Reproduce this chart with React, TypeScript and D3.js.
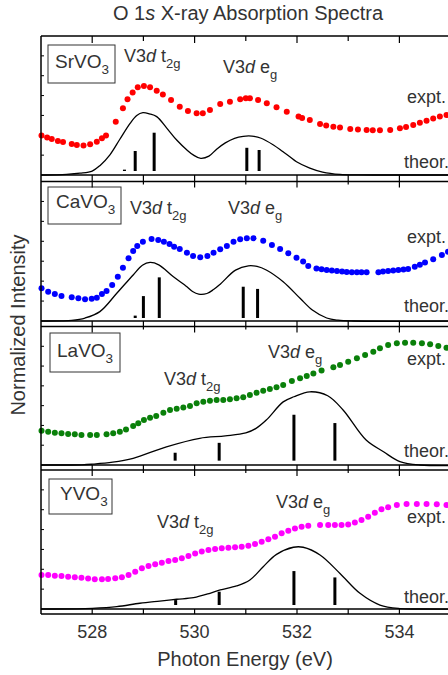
import React from "react";
import * as d3 from "d3";

// ---------------- DATA ----------------
const samples = ["SrVO", "CaVO", "LaVO", "YVO"];
const xTicksMajor = [528, 530, 532, 534];
const xTicksMinor = [529, 531, 533, 535];

// SrVO3
const srExptE = [527.01,527.12,527.21,527.33,527.43,527.60,527.70,527.83,527.96,528.09,528.19,528.27,528.46,528.60,528.69,528.79,528.89,529.01,529.13,529.26,529.38,529.54,529.71,529.87,530.04,530.16,530.30,530.50,530.69,530.89,531.00,531.08,531.24,531.41,531.60,531.80,532.03,532.10,532.25,532.45,532.57,532.71,532.84,533.04,533.19,533.36,533.48,533.62,533.82,534.01,534.13,534.27,534.40,534.53,534.66,534.79,534.92];
const srExptI = [1.99,1.89,1.81,1.71,1.66,1.56,1.51,1.48,1.55,1.68,1.85,1.99,2.68,3.36,3.81,4.16,4.42,4.48,4.42,4.24,4.06,3.78,3.44,3.22,3.11,3.11,3.27,3.58,3.69,3.81,3.86,3.86,3.78,3.61,3.41,3.19,2.94,2.87,2.77,2.57,2.49,2.43,2.39,2.32,2.29,2.27,2.25,2.25,2.27,2.35,2.42,2.52,2.63,2.73,2.84,2.94,3.02];
const srTheoE = [527.0,527.3,527.5,527.76,528.0,528.15,528.35,528.54,528.74,528.87,528.99,529.12,529.26,529.46,529.65,529.85,529.98,530.12,530.28,530.43,530.6,530.78,530.95,531.12,531.3,531.54,531.72,531.86,531.99,532.25,532.5,532.84,533.2,533.6,535.6];
const srTheoI = [0,0.01,0.03,0.09,0.2,0.47,1.03,1.8,2.6,3.0,3.14,3.08,2.94,2.35,1.76,1.26,1.0,0.84,0.95,1.3,1.62,1.85,1.95,1.96,1.85,1.51,1.18,0.92,0.67,0.35,0.15,0.03,0.005,0,0];
const srStickE = [528.63,528.84,529.21,531.02,531.26];
const srStickI = [0.27,1.21,2.13,1.37,1.26];

// CaVO3
const caExptE = [527.01,527.14,527.27,527.40,527.60,527.73,527.86,527.99,528.09,528.19,528.28,528.39,528.50,528.60,528.71,528.80,528.88,528.99,529.16,529.29,529.40,529.51,529.60,529.71,529.85,529.97,530.11,530.25,530.37,530.50,530.63,530.76,530.89,531.02,531.15,531.34,531.51,531.67,531.83,531.99,532.12,532.22,532.38,532.48,532.58,532.68,532.78,532.88,532.97,533.07,533.17,533.26,533.36,533.59,533.68,533.78,533.88,533.98,534.08,534.17,534.30,534.40,534.50,534.66,534.83,534.95];
const caExptI = [1.64,1.47,1.35,1.25,1.19,1.14,1.09,1.12,1.17,1.35,1.51,1.81,2.22,2.67,3.15,3.51,3.76,3.98,4.11,4.06,3.98,3.86,3.73,3.61,3.43,3.26,3.20,3.26,3.43,3.60,3.76,3.98,4.10,4.15,4.15,4.03,3.81,3.61,3.40,3.18,2.98,2.76,2.64,2.60,2.56,2.53,2.51,2.48,2.46,2.45,2.44,2.44,2.44,2.44,2.48,2.51,2.53,2.56,2.58,2.61,2.72,2.82,2.93,3.10,3.31,3.48];
const caTheoE = [527.0,527.4,527.6,527.86,528.15,528.48,528.8,528.98,529.13,529.3,529.58,529.85,529.96,530.08,530.24,530.37,530.5,530.8,531.05,531.22,531.4,531.73,532.06,532.3,532.58,532.8,533.1,535.6];
const caTheoI = [0,0.005,0.03,0.15,0.47,1.39,2.31,2.8,2.94,2.82,2.23,1.72,1.48,1.35,1.38,1.58,1.85,2.55,2.77,2.74,2.56,1.97,1.14,0.55,0.15,0.04,0,0];
const caStickE = [528.84,529.0,529.31,530.95,531.23];
const caStickI = [0.27,1.25,2.19,1.72,1.61];

// LaVO3
const laExptE = [527.01,527.14,527.27,527.40,527.53,527.66,527.79,527.96,528.09,528.28,528.41,528.54,528.66,528.80,528.90,529.01,529.13,529.25,529.39,529.52,529.65,529.78,529.91,530.04,530.17,530.30,530.43,530.56,530.69,530.82,530.95,531.08,531.21,531.34,531.47,531.60,531.73,531.90,532.06,532.19,532.32,532.48,532.71,532.84,533.00,533.17,533.33,533.49,533.62,533.78,533.95,534.11,534.27,534.44,534.60,534.76,534.92];
const laExptI = [1.73,1.68,1.63,1.60,1.57,1.55,1.52,1.52,1.52,1.55,1.60,1.68,1.80,1.97,2.11,2.27,2.39,2.48,2.64,2.78,2.84,2.90,2.98,3.12,3.20,3.25,3.28,3.28,3.32,3.37,3.42,3.54,3.65,3.75,3.84,3.93,4.04,4.24,4.38,4.50,4.63,4.77,4.94,5.05,5.22,5.39,5.56,5.73,5.90,6.06,6.15,6.18,6.18,6.15,6.10,6.01,5.93];
const laTheoE = [527.0,527.8,528.0,528.4,528.8,529.45,530.1,530.6,531.0,531.2,531.4,531.73,531.94,532.25,532.6,532.9,533.35,533.69,534.01,534.4,535.6];
const laTheoI = [0,0.01,0.04,0.14,0.34,0.92,1.35,1.47,1.62,1.85,2.27,3.19,3.45,3.70,3.50,2.78,1.26,0.67,0.17,0,0];
const laStickE = [529.62,530.48,531.94,532.74];
const laStickI = [0.62,1.12,2.54,2.12];

// YVO3
const yExptE = [527.01,527.14,527.27,527.40,527.53,527.66,527.79,527.92,528.05,528.19,528.31,528.45,528.58,528.71,528.84,528.97,529.10,529.23,529.36,529.49,529.62,529.75,529.88,530.01,530.14,530.27,530.40,530.53,530.66,530.79,530.92,531.05,531.18,531.31,531.44,531.57,531.70,531.83,531.96,532.09,532.22,532.45,532.61,532.74,532.87,533.00,533.13,533.26,533.39,533.52,533.65,533.78,533.95,534.14,534.34,534.53,534.73,534.92];
const yExptI = [1.71,1.71,1.68,1.66,1.63,1.60,1.58,1.53,1.50,1.50,1.51,1.55,1.60,1.71,1.88,2.05,2.17,2.25,2.33,2.42,2.47,2.55,2.67,2.80,2.89,2.97,3.02,3.06,3.09,3.11,3.14,3.19,3.27,3.39,3.51,3.64,3.81,3.94,4.06,4.14,4.19,4.23,4.23,4.23,4.23,4.26,4.35,4.48,4.65,4.85,5.02,5.12,5.24,5.29,5.29,5.29,5.27,5.24];
const yTheoE = [527.0,527.7,528.0,528.48,528.93,529.32,529.65,529.98,530.3,530.5,530.82,531.08,531.34,531.6,531.93,532.12,532.45,532.84,533.23,533.62,534.01,534.4,535.6];
const yTheoI = [0,0.005,0.03,0.12,0.29,0.40,0.49,0.57,0.79,0.96,1.16,1.46,2.13,2.75,3.11,3.11,2.72,1.79,0.79,0.20,0.02,0,0];
const yStickE = [529.63,530.48,531.94,532.74];
const yStickI = [0.45,0.87,1.91,1.59];

const exptColors = ["#ff0000", "#0000ff", "#0a800a", "#ff00ff"];

// ---------------- LAYOUT ----------------
const W = 448;
const H = 675;
const X0 = 41;
const panels = [
  { top: 36, bottom: 175, stickBase: 0.2 },
  { top: 181.5, bottom: 321, stickBase: 0.15 },
  { top: 326.5, bottom: 465, stickBase: 0.22 },
  { top: 470, bottom: 609, stickBase: 0.2 },
];
const textColor = "#333";
const font = "'Liberation Sans', Arial, sans-serif";

const x = d3.scaleLinear().domain([527, 535.5]).range([X0, X0 + 51.2 * 8.5]);

const sets = [
  { eE: srExptE, eI: srExptI, tE: srTheoE, tI: srTheoI, sE: srStickE, sI: srStickI },
  { eE: caExptE, eI: caExptI, tE: caTheoE, tI: caTheoI, sE: caStickE, sI: caStickI },
  { eE: laExptE, eI: laExptI, tE: laTheoE, tI: laTheoI, sE: laStickE, sI: laStickI },
  { eE: yExptE, eI: yExptI, tE: yTheoE, tI: yTheoI, sE: yStickE, sI: yStickI },
];

const boxes = [
  { x: 48, y: 45, w: 67, h: 38, tx: 55, ty: 68 },
  { x: 48, y: 187, w: 73, h: 37, tx: 56, ty: 208 },
  { x: 50, y: 333, w: 70, h: 39, tx: 57, ty: 357 },
  { x: 49, y: 479, w: 63, h: 35, tx: 60, ty: 500 },
];
const t2gPos = [
  { x: 124, y: 62 },
  { x: 130, y: 214 },
  { x: 164, y: 385 },
  { x: 157, y: 528 },
];
const egPos = [
  { x: 223, y: 73 },
  { x: 228, y: 214 },
  { x: 268, y: 358 },
  { x: 276, y: 507.5 },
];
const exptPos = [103, 243, 365, 523];
const theorPos = [168, 312, 457, 603];

function Panel({ i }: { i: number }) {
  const p = panels[i];
  const s = sets[i];
  const y = d3.scaleLinear().domain([0, 7]).range([p.bottom, p.top]);
  const line = d3
    .line<number>()
    .x((_, k) => x(s.tE[k]))
    .y((v) => Math.min(y(v), p.bottom))
    .curve(d3.curveCatmullRom.alpha(0.5));
  const box = boxes[i];
  return (
    <g>
      {d3.range(1, 7).map((v) => (
        <line key={v} x1={X0} x2={X0 + 3} y1={y(v)} y2={y(v)} stroke="#000" strokeWidth={1} />
      ))}
      <path d={line(s.tI) || ""} fill="none" stroke="#000" strokeWidth={1.3} />
      {s.sE.map((e, k) => (
        <line key={k} x1={x(e)} x2={x(e)} y1={y(p.stickBase)} y2={y(s.sI[k])} stroke="#000" strokeWidth={3} />
      ))}
      {s.eE.map((e, k) => (
        <circle key={k} cx={x(e)} cy={y(s.eI[k])} r={3} fill={exptColors[i]} />
      ))}
      <rect x={box.x} y={box.y} width={box.w} height={box.h} fill="#fff" stroke="#333" strokeWidth={1} />
      <text x={box.tx} y={box.ty} fontFamily={font} fontSize={19} fill={textColor}>
        {samples[i]}
        <tspan fontSize={13.5} dy={6}>3</tspan>
      </text>
      <text x={t2gPos[i].x} y={t2gPos[i].y} fontFamily={font} fontSize={18} fill={textColor}>
        V3<tspan fontStyle="italic">d</tspan> t<tspan fontSize={13} dy={6}>2g</tspan>
      </text>
      <text x={egPos[i].x} y={egPos[i].y} fontFamily={font} fontSize={18} fill={textColor}>
        V3<tspan fontStyle="italic">d</tspan> e<tspan fontSize={13} dy={6}>g</tspan>
      </text>
      <text x={407} y={exptPos[i]} fontFamily={font} fontSize={18} fill={textColor}>expt.</text>
      <text x={404} y={theorPos[i]} fontFamily={font} fontSize={18} fill={textColor}>theor.</text>
    </g>
  );
}

export default function App() {
  const hLines = [36, 175, 181.5, 321, 326.5, 465, 470, 609, 614];
  return (
    <div style={{ position: "absolute", left: 0, top: 0 }}>
      <svg width={W} height={H} style={{ display: "block", background: "#fff" }}>
        <rect width={W} height={H} fill="#fff" />
        {panels.map((_, i) => (
          <Panel key={i} i={i} />
        ))}
        <line x1={X0} x2={X0} y1={36} y2={614} stroke="#000" strokeWidth={1.5} />
        {hLines.map((yy, k) => (
          <line key={k} x1={X0} x2={W + 20} y1={yy} y2={yy} stroke="#000" strokeWidth={1.5} />
        ))}
        {xTicksMajor.map((t) => (
          <line key={"tm" + t} x1={x(t)} x2={x(t)} y1={36} y2={43} stroke="#000" strokeWidth={1.2} />
        ))}
        {xTicksMinor.map((t) => (
          <line key={"tn" + t} x1={x(t)} x2={x(t)} y1={36} y2={41} stroke="#000" strokeWidth={1.2} />
        ))}
        {panels.map((p, i) => {
          const nextTop = i < 3 ? panels[i + 1].top : 614;
          const ext = i < 3 ? 6 : 0;
          return (
            <g key={"g" + i}>
              {xTicksMajor.map((t) => (
                <line key={"a" + t} x1={x(t)} x2={x(t)} y1={p.bottom} y2={nextTop + ext} stroke="#000" strokeWidth={1.2} />
              ))}
              {xTicksMinor.map((t) => (
                <line key={"b" + t} x1={x(t)} x2={x(t)} y1={p.bottom} y2={nextTop + (i < 3 ? 3 : 0)} stroke="#000" strokeWidth={1.2} />
              ))}
            </g>
          );
        })}
        {xTicksMajor.map((t) => (
          <text key={"l" + t} x={x(t)} y={638} textAnchor="middle" fontFamily={font} fontSize={18} fill={textColor}>
            {t}
          </text>
        ))}
        <text x={245} y={666} textAnchor="middle" fontFamily={font} fontSize={20} fill={textColor}>
          Photon Energy (eV)
        </text>
        <text
          transform={`translate(25,325) rotate(-90)`}
          textAnchor="middle"
          fontFamily={font}
          fontSize={20}
          fill={textColor}
        >
          Normalized Intensity
        </text>
        <text x={248} y={20} textAnchor="middle" fontFamily={font} fontSize={20} fill={textColor}>
          O 1<tspan fontStyle="italic">s</tspan> X-ray Absorption Spectra
        </text>
      </svg>
    </div>
  );
}
